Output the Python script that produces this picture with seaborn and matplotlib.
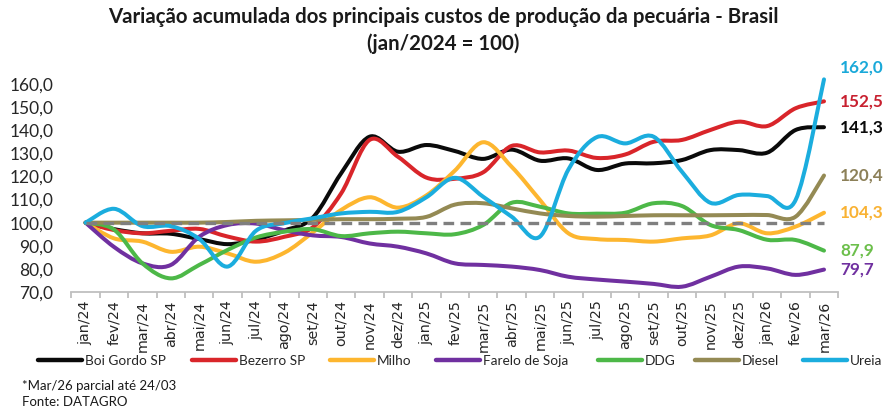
import matplotlib
matplotlib.use("Agg")
import matplotlib.pyplot as plt
from matplotlib.path import Path
from matplotlib.patches import PathPatch
from matplotlib.lines import Line2D
import seaborn as sns

sns.set_theme(style="white")
plt.rcParams['font.family'] = ['Lato', 'DejaVu Sans']

# --- DATA (jan/2024 = 100) ---
meses = ["jan/24", "fev/24", "mar/24", "abr/24", "mai/24", "jun/24", "jul/24", "ago/24", "set/24",
         "out/24", "nov/24", "dez/24", "jan/25", "fev/25", "mar/25", "abr/25", "mai/25", "jun/25",
         "jul/25", "ago/25", "set/25", "out/25", "nov/25", "dez/25", "jan/26", "fev/26", "mar/26"]

boi_gordo = [100, 97.2, 95.4, 95.2, 92.9, 90.7, 92.7, 96.6, 102.2, 121.4, 137.2, 130.7, 133.6, 131.0,
             127.6, 131.6, 126.8, 127.8, 122.8, 125.6, 125.7, 127.1, 131.4, 131.4, 130.3, 140.1, 141.3]
bezerro = [100, 96.8, 95.4, 96.5, 97.3, 94.0, 91.8, 93.9, 98.0, 112.7, 135.8, 128.5, 119.5, 119.0,
           121.8, 133.2, 130.4, 131.2, 128.0, 129.5, 135.0, 135.8, 140.1, 143.7, 141.8, 149.5, 152.5]
milho = [100, 93.2, 91.8, 87.4, 89.6, 86.7, 83.1, 87.0, 95.8, 105.5, 111.0, 106.5, 111.8, 122.5,
         134.8, 124.2, 109.8, 95.4, 92.9, 92.5, 91.8, 93.2, 94.5, 99.7, 95.4, 98.3, 104.3]
farelo_soja = [100, 89.5, 82.4, 81.7, 93.9, 99.0, 99.6, 96.7, 94.5, 93.8, 91.0, 89.6, 86.7, 82.4,
               81.7, 81.0, 79.5, 76.6, 75.4, 74.5, 73.5, 72.3, 76.6, 81.0, 80.2, 77.4, 79.7]
ddg = [100, 97.0, 82.4, 75.9, 81.7, 88.2, 93.6, 96.1, 97.2, 94.2, 95.4, 96.1, 95.4, 95.0,
       99.0, 108.6, 106.9, 104.0, 103.9, 104.3, 108.4, 107.2, 99.0, 96.8, 92.6, 92.5, 87.9]
diesel = [100, 100, 100, 100, 100, 100.3, 100.8, 101.0, 101.2, 101.5, 101.5, 101.7, 102.5, 107.8,
          108.4, 106.2, 104.0, 102.9, 102.6, 102.9, 103.2, 103.2, 103.2, 103.3, 103.3, 102.6, 120.4]
ureia = [100, 106.0, 98.5, 98.5, 93.0, 81.0, 96.5, 99.8, 101.9, 104.0, 104.7, 104.7, 111.0, 119.4,
         111.2, 102.6, 94.0, 123.0, 137.0, 134.3, 137.2, 122.0, 108.6, 112.0, 111.5, 109.8, 162.0]

nomes = ["Boi Gordo SP", "Bezerro SP", "Milho", "Farelo de Soja", "DDG", "Diesel", "Ureia"]
valores = [boi_gordo, bezerro, milho, farelo_soja, ddg, diesel, ureia]
cores = ["#0a0a0a", "#d9252a", "#fdb62f", "#7030a0", "#4db848", "#948a54", "#1badde"]
cores_rotulo = ["#0a0a0a", "#c8202f", "#f9b233", "#7030a0", "#6cbf4b", "#8c8058", "#1aa9d9"]
BASE = 100

# left edge (px) of each legend entry, as laid out in the original
legenda_x = [38, 192, 330, 436, 598, 695, 803]


def smooth_path(xs, ys):
    # Excel-like smoothed line: cubic bezier passing through every point
    n = len(xs)
    verts = [(xs[0], ys[0])]
    codes = [Path.MOVETO]
    for i in range(n - 1):
        x0, y0 = xs[max(i - 1, 0)], ys[max(i - 1, 0)]
        x1, y1 = xs[i], ys[i]
        x2, y2 = xs[i + 1], ys[i + 1]
        x3, y3 = xs[min(i + 2, n - 1)], ys[min(i + 2, n - 1)]
        verts += [(x1 + (x2 - x0) / 6, y1 + (y2 - y0) / 6),
                  (x2 - (x3 - x1) / 6, y2 - (y3 - y1) / 6),
                  (x2, y2)]
        codes += [Path.CURVE4] * 3
    return Path(verts, codes)


fig = plt.figure(figsize=(8.86, 4.12), dpi=100)
ax = fig.add_axes([71.4 / 886, 120 / 412, 766.8 / 886, 208 / 412])
ax.set_xlim(-0.5, 26.5)
ax.set_ylim(70, 160)

xs = list(range(len(meses)))
for vals, cor in zip(valores, cores):
    ax.add_patch(PathPatch(smooth_path(xs, vals), facecolor="none", edgecolor=cor,
                           lw=2.9, capstyle="round", joinstyle="round", clip_on=False))

# dashed base line (jan/2024 = 100)
ax.hlines(BASE, xs[0], xs[-1], colors="#7f7f7f", lw=2.4, linestyles=(0, (3.2, 1.9)), zorder=3)

# end-of-line value labels
deslocamento = {6: 5.3}  # Ureia label pushed above the line end
for k, (vals, cor) in enumerate(zip(valores, cores_rotulo)):
    txt = f"{vals[-1]:.1f}".replace(".", ",")
    ax.text(26.56, vals[-1] + deslocamento.get(k, 0), txt, color=cor, fontsize=12.3,
            fontweight="bold", ha="left", va="center", clip_on=False)

# axes styling
for s in ["top", "right", "left"]:
    ax.spines[s].set_visible(False)
ax.spines["bottom"].set_color("#bfbfbf")
ax.spines["bottom"].set_linewidth(1.3)

ax.set_yticks(range(70, 161, 10))
ax.set_yticklabels([f"{v:.1f}".replace(".", ",") for v in range(70, 161, 10)])
ax.tick_params(axis="y", length=0, pad=13, labelsize=12.5, labelcolor="#262626")

ax.set_xticks(xs)
ax.set_xticklabels(meses, rotation=90, fontfamily="DejaVu Sans")
ax.set_xticks([x - 0.5 for x in xs] + [26.5], minor=True)
ax.tick_params(axis="x", which="major", length=0, pad=6, labelsize=10.3, labelcolor="#262626")
ax.tick_params(axis="x", which="minor", length=4, width=1.3, color="#bfbfbf", bottom=True)

# title
fig.text(0.5, 1 - 17 / 412, "Variação acumulada dos principais custos de produção da pecuária - Brasil",
         ha="center", va="center", fontsize=14.7, fontweight="bold", color="#1a1a1a")
fig.text(0.5, 1 - 44 / 412, "(jan/2024 = 100)", ha="center", va="center",
         fontsize=14.7, fontweight="bold", color="#1a1a1a")

# legend: one entry per box so each sits where the original puts it
for nome, cor, x0 in zip(nomes, cores, legenda_x):
    h = Line2D([0], [0], color=cor, lw=3.2, solid_capstyle="round")
    fig.legend([h], [nome], loc="center left", bbox_to_anchor=(x0 / 886, 1 - 360.7 / 412),
               frameon=False, fontsize=9.8, handlelength=3.2, handletextpad=0.22,
               borderpad=0, borderaxespad=0)

# footnotes
fig.text(22 / 886, 1 - 386 / 412, "*Mar/26 parcial até 24/03", ha="left", va="center",
         fontsize=9.5, color="#1a1a1a")
fig.text(22 / 886, 1 - 402.5 / 412, "Fonte: DATAGRO", ha="left", va="center",
         fontsize=9.5, color="#1a1a1a")

fig.savefig("out.png", dpi=100)
